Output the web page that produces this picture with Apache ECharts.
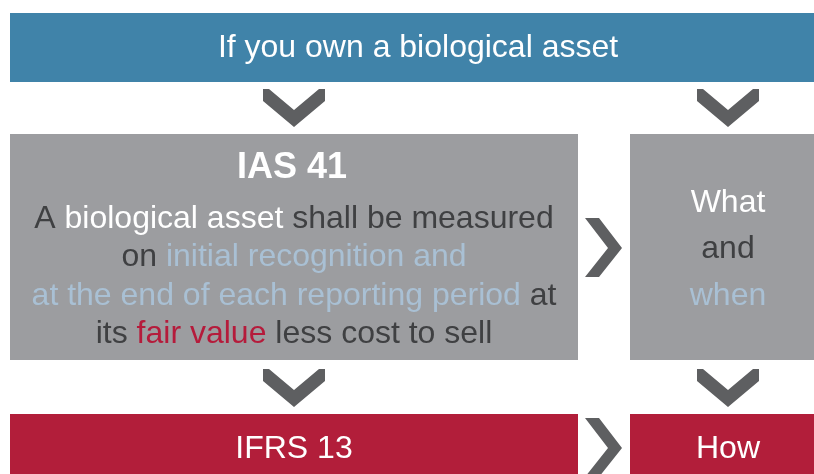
<!DOCTYPE html>
<html>
<head>
<meta charset="utf-8">
<script src="https://cdn.jsdelivr.net/npm/echarts@6/dist/echarts.min.js"></script>
<style>
  html, body { margin: 0; padding: 0; background: #fff; }
  #flowChart { width: 814px; height: 474px; }
</style>
</head>
<body>
<div id="flowChart"></div>
<script>
// --- content ---------------------------------------------------------
var headerText = 'If you own a biological asset';
var ias41Title = 'IAS 41';
// each line is a list of [text, colour key]
var ias41Lines = [
	[['A ', 'dark'], ['biological asset', 'white'], [' shall be measured', 'dark']],
	[['on ', 'dark'], ['initial recognition and', 'light']],
	[['at the end of each reporting period', 'light'], [' at', 'dark']],
	[['its ', 'dark'], ['fair value', 'red'], [' less cost to sell', 'dark']]
];
var sideLines = [
	[['What', 'white']],
	[['and', 'dark']],
	[['when', 'light']]
];
var footerLeft = 'IFRS 13';
var footerRight = 'How';

var palette = {
	blue: '#4083a9',
	grey: '#9c9da0',
	chevron: '#5e5f61',
	red: '#b21e3a',
	white: '#ffffff',
	dark: '#3f4042',
	light: '#a9c0d4',
	redText: '#b51b3b'
};

var fontFamily = '"Liberation Sans", Arial, sans-serif';
var bodySize = 32;

// --- helpers ---------------------------------------------------------
function richLine(segments) {
	return segments.map(function (s) { return '{' + s[1] + '|' + s[0] + '}'; }).join('');
}

var richStyles = {
	white: { fill: palette.white, fontSize: bodySize, fontFamily: fontFamily },
	dark: { fill: palette.dark, fontSize: bodySize, fontFamily: fontFamily },
	light: { fill: palette.light, fontSize: bodySize, fontFamily: fontFamily },
	red: { fill: palette.redText, fontSize: bodySize, fontFamily: fontFamily }
};

function box(x, y, w, h, color) {
	return { type: 'rect', shape: { x: x, y: y, width: w, height: h }, style: { fill: color } };
}

function label(text, x, y, size, weight) {
	return {
		type: 'text', x: x, y: y,
		style: {
			text: text, fill: '#fff', fontSize: size, fontWeight: weight || 'normal',
			fontFamily: fontFamily, align: 'center', verticalAlign: 'middle'
		}
	};
}

function richText(segments, x, y) {
	return {
		type: 'text', x: x, y: y,
		style: {
			text: richLine(segments), rich: richStyles,
			align: 'center', verticalAlign: 'middle'
		}
	};
}

function downChevron(cx, top) {
	var pts = [[-31, 0], [-25, 0], [0, 21], [25, 0], [31, 0], [31, 12], [0, 38], [-31, 12]];
	return {
		type: 'polygon',
		shape: { points: pts.map(function (p) { return [cx + p[0], top + p[1]]; }) },
		style: { fill: palette.chevron }
	};
}

function rightChevron(left, top) {
	var pts = [[0, 0], [14, 0], [37, 30], [14, 59], [0, 59], [23, 30]];
	return {
		type: 'polygon',
		shape: { points: pts.map(function (p) { return [left + p[0], top + p[1]]; }) },
		style: { fill: palette.chevron }
	};
}

// --- layout ----------------------------------------------------------
var leftCx = 294, rightCx = 728;
var elements = [];

elements.push(box(10, 13, 804, 69, palette.blue));
elements.push(label(headerText, 418, 48, bodySize));

elements.push(downChevron(leftCx, 89));
elements.push(downChevron(rightCx, 89));

elements.push(box(10, 134, 568, 226, palette.grey));
elements.push(box(630, 134, 184, 226, palette.grey));
elements.push(label(ias41Title, 292, 168, 36, 'bold'));

ias41Lines.forEach(function (line, i) {
	elements.push(richText(line, leftCx, 219 + i * 38.5));
});
sideLines.forEach(function (line, i) {
	elements.push(richText(line, rightCx, 203 + i * 46.5));
});

elements.push(rightChevron(585, 218));

elements.push(downChevron(leftCx, 369));
elements.push(downChevron(rightCx, 369));

elements.push(box(10, 414, 568, 60, palette.red));
elements.push(box(630, 414, 184, 60, palette.red));
elements.push(label(footerLeft, leftCx, 449, bodySize));
elements.push(label(footerRight, rightCx, 449, bodySize));
elements.push(rightChevron(585, 418));

var chart = echarts.init(document.getElementById('flowChart'), null, { renderer: 'canvas' });
chart.setOption({
	animation: false,
	backgroundColor: '#ffffff',
	graphic: { elements: elements }
});
</script>
</body>
</html>
